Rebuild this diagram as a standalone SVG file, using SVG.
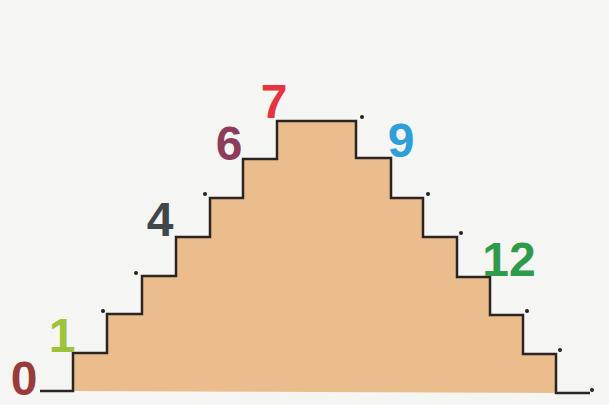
<svg xmlns="http://www.w3.org/2000/svg" width="609" height="405" viewBox="0 0 609 405">
<style>
.lbl{font-family:"Liberation Sans",Arial,sans-serif;font-weight:bold;font-size:48px;text-anchor:middle}
.dot{fill:#222}
</style>
<rect width="609" height="405" fill="#f5f5f3"/>
<g id="staircase">
<polygon points="73,391 73,353 107,353 107,314 142,314 142,276 176,276 176,237 210,237 210,198 243,198 243,159 277,159 277,121 356,121 356,158 391,158 391,198 423,198 423,237 457,237 457,277 490,277 490,315 523,315 523,354 556,354 556,393" fill="#ebbd8d"/>
<polyline points="40,391 73,391 73,353 107,353 107,314 142,314 142,276 176,276 176,237 210,237 210,198 243,198 243,159 277,159 277,121 356,121 356,158 391,158 391,198 423,198 423,237 457,237 457,277 490,277 490,315 523,315 523,354 556,354 556,393 590,393" fill="none" stroke="#2a2522" stroke-width="2.5"/>
</g>
<g id="dots">
<circle class="dot" cx="103" cy="311" r="2"/>
<circle class="dot" cx="136" cy="273" r="2"/>
<circle class="dot" cx="205" cy="194" r="2"/>
<circle class="dot" cx="362" cy="117" r="2"/>
<circle class="dot" cx="428" cy="194" r="2"/>
<circle class="dot" cx="461" cy="233" r="2"/>
<circle class="dot" cx="527" cy="311" r="2"/>
<circle class="dot" cx="560" cy="350" r="2"/>
<circle class="dot" cx="592" cy="390" r="2"/>
</g>
<g id="labels">
<text class="lbl" x="24" y="395" fill="#9a3b3b">0</text>
<text class="lbl" x="62" y="352" fill="#9cc43a">1</text>
<text class="lbl" x="160" y="236" fill="#3f474a">4</text>
<text class="lbl" x="229" y="160" fill="#8c3d5c">6</text>
<text class="lbl" x="274" y="118" fill="#e5333f">7</text>
<text class="lbl" x="401" y="157" fill="#2f9fd9">9</text>
<text class="lbl" x="509" y="276" fill="#2f9a4a">12</text>
</g>
</svg>
